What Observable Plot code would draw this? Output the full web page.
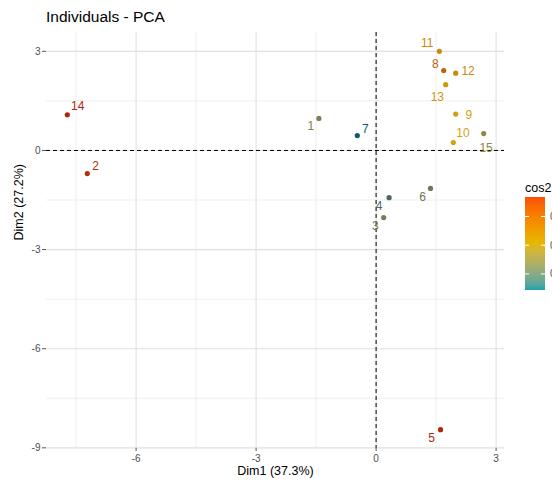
<!DOCTYPE html>
<html>
<head>
<meta charset="utf-8">
<script src="https://cdn.jsdelivr.net/npm/d3@7"></script>
<script src="https://cdn.jsdelivr.net/npm/@observablehq/plot@0.6"></script>
<style>
  html, body { margin: 0; padding: 0; background: #fff; overflow: hidden; }
  #wrap { position: relative; width: 552px; height: 482px; overflow: hidden; font-family: "Liberation Sans", Arial, sans-serif; }
  #title { position: absolute; left: 46px; top: 8px; font-size: 15.5px; color: #000; white-space: nowrap; }
  #plot { position: absolute; left: 0; top: 28px; }
  #legend { position: absolute; left: 515px; top: 175px; }
</style>
</head>
<body>
<div id="wrap">
  <div id="title">Individuals - PCA</div>
  <div id="plot"></div>
  <div id="legend"></div>
</div>
<script>
// ---- data ----
const ids = ["1","2","3","4","5","6","7","8","9","10","11","12","13","14","15"];
const dim1 = [-1.43, -7.22, 0.19, 0.325, 1.61, 1.36, -0.47, 1.69, 1.99, 1.93, 1.58, 1.99, 1.74, -7.72, 2.69];
const dim2 = [0.97, -0.70, -2.03, -1.43, -8.45, -1.15, 0.45, 2.42, 1.10, 0.24, 3.00, 2.34, 1.99, 1.08, 0.51];
const cos2 = [0.31, 0.88, 0.29, 0.19, 0.90, 0.26, 0.11, 0.74, 0.53, 0.51, 0.61, 0.61, 0.56, 0.90, 0.35];
// repelled label positions (data units)
const labelDim1 = [-1.63, -7.01, -0.02, 0.075, 1.39, 1.16, -0.27, 1.48, 2.32, 2.17, 1.28, 2.30, 1.53, -7.46, 2.75];
const labelDim2 = [0.73, -0.49, -2.30, -1.69, -8.71, -1.42, 0.64, 2.61, 1.08, 0.51, 3.25, 2.39, 1.62, 1.33, 0.08];

const xTicks = [-6, -3, 0, 3];
const yTicks = [3, 0, -3, -6, -9];
const xMinor = [-7.5, -4.5, -1.5, 1.5];
const yMinor = [1.5, -1.5, -4.5, -7.5];
const xLabel = "Dim1 (37.3%)";
const yLabel = "Dim2 (27.2%)";
const legendTitle = "cos2";
const legendTicks = [0.25, 0.50, 0.75];
const legendDomain = [0.11, 0.92];

const rows = ids.map((id, i) => ({
  id, x: dim1[i], y: dim2[i], cos2: cos2[i], lx: labelDim1[i], ly: labelDim2[i]
}));

const tickColor = "#4d4d4d";
const hyphen = d => String(d);

const chart = Plot.plot({
  width: 552,
  height: 454,
  marginLeft: 46,
  marginRight: 48,
  marginTop: 4,
  marginBottom: 34,
  style: { fontFamily: "Liberation Sans, Arial, sans-serif", fontSize: "10px", background: "#fff" },
  x: { domain: [-8.24, 3.21] },
  y: { domain: [-9.02, 3.57] },
  color: {
    type: "linear",
    domain: [0.11, 0.515, 0.92],
    range: ["#0e5a6e", "#d4a30f", "#ac1a0a"],
    interpolate: "lab"
  },
  marks: [
    Plot.gridX(xMinor, { stroke: "#ebebeb", strokeOpacity: 1, strokeWidth: 0.8 }),
    Plot.gridY(yMinor, { stroke: "#ebebeb", strokeOpacity: 1, strokeWidth: 0.8 }),
    Plot.gridX(xTicks, { stroke: "#e0e0e0", strokeOpacity: 1, strokeWidth: 1.1 }),
    Plot.gridY(yTicks, { stroke: "#e0e0e0", strokeOpacity: 1, strokeWidth: 1.1 }),
    Plot.ruleX([0], { stroke: "#000", strokeWidth: 1, strokeDasharray: "4,3" }),
    Plot.ruleY([0], { stroke: "#000", strokeWidth: 1, strokeDasharray: "4,3" }),
    Plot.axisX(xTicks, { tickSize: 3, tickPadding: 3, stroke: "#555", color: tickColor, fill: tickColor, label: null, fontSize: 10, tickFormat: hyphen }),
    Plot.axisY(yTicks, { tickSize: 4, tickPadding: 2, stroke: "#555", color: tickColor, fill: tickColor, label: null, fontSize: 10, tickFormat: hyphen }),
    Plot.text([xLabel], { frameAnchor: "bottom", dy: 26, fontSize: 12.5, fill: "#000" }),
    Plot.text([yLabel], { frameAnchor: "left", dx: -28, rotate: -90, fontSize: 12.5, fill: "#000" }),
    Plot.dot(rows, { x: "x", y: "y", r: 2.6, fill: "cos2", stroke: "none" }),
    Plot.text(rows, { x: "lx", y: "ly", text: "id", fill: "cos2", fontSize: 12, textAnchor: "middle", lineAnchor: "middle" })
  ]
});
document.getElementById("plot").appendChild(chart);

// ---- legend (gradient colourbar) ----
(function () {
  const W = 60, H = 130;
  const barX = 10, barY = 22, barW = 20, barH = 93;
  const svg = d3.create("svg").attr("width", W).attr("height", H)
    .style("font-family", "Liberation Sans, Arial, sans-serif");
  const grad = svg.append("defs").append("linearGradient")
    .attr("id", "cosgrad").attr("x1", 0).attr("y1", 1).attr("x2", 0).attr("y2", 0);
  const interp = d3.piecewise(d3.interpolateLab, ["#1fa3ae", "#e7b800", "#fc4e07"]);
  d3.range(0, 1.0001, 0.05).forEach(o =>
    grad.append("stop").attr("offset", (o * 100) + "%").attr("stop-color", interp(o)));
  const ys = d3.scaleLinear().domain(legendDomain).range([barY + barH, barY]);
  svg.append("text").attr("x", barX).attr("y", 17).attr("font-size", 12.5).attr("fill", "#000").text(legendTitle);
  svg.append("rect").attr("x", barX).attr("y", barY).attr("width", barW).attr("height", barH).attr("fill", "url(#cosgrad)");
  legendTicks.forEach(t => {
    const y = ys(t);
    svg.append("line").attr("x1", barX).attr("x2", barX + 4).attr("y1", y).attr("y2", y).attr("stroke", "#fff").attr("stroke-width", 1);
    svg.append("line").attr("x1", barX + barW - 4).attr("x2", barX + barW).attr("y1", y).attr("y2", y).attr("stroke", "#fff").attr("stroke-width", 1);
    svg.append("text").attr("x", barX + barW + 5).attr("y", y).attr("dy", "0.35em").attr("font-size", 10).attr("fill", tickColor).text(t.toFixed(2));
  });
  document.getElementById("legend").appendChild(svg.node());
})();
</script>
</body>
</html>
